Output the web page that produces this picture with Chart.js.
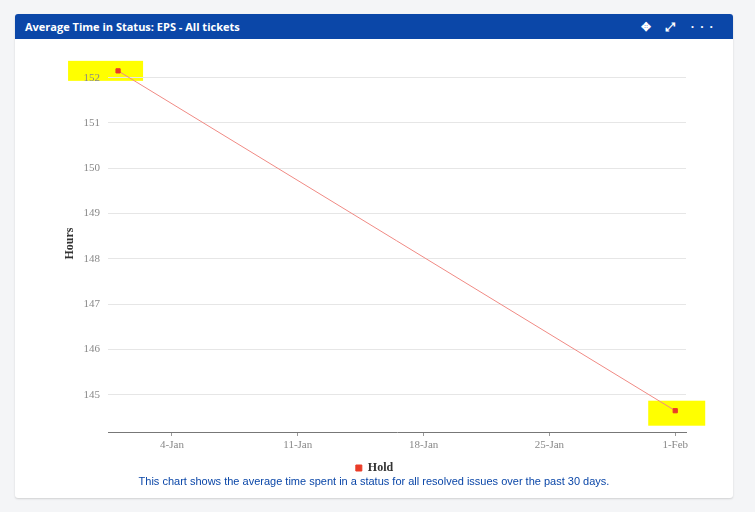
<!DOCTYPE html>
<html><head><meta charset="utf-8">
<script src="https://cdn.jsdelivr.net/npm/chart.js"></script>
<style>
body{margin:0;background:#f4f5f7;width:755px;height:512px;overflow:hidden;font-family:"Open Sans",Arial,sans-serif}
#card{position:absolute;left:15px;top:14px;width:718px;height:484px;background:#fff;border-radius:3px;box-shadow:0 1px 2px rgba(0,0,0,.15)}
#hdr{height:25px;background:#0b47a8;color:#fff;font-weight:bold;font-size:11px;line-height:25px;padding-left:10px;border-radius:3px 3px 0 0;position:relative}
#icons{position:absolute;right:14px;top:0;font-size:12px;letter-spacing:6px}
#wrap{position:absolute;left:0;top:26px;width:718px;height:448px}
#foot{position:absolute;left:0;top:461px;width:718px;text-align:center;color:#0b47a8;font-size:11px;font-family:Arial,"Liberation Sans",sans-serif}
</style></head><body>
<div id="card"><div id="hdr">Average Time in Status: EPS - All tickets<span id="icons">✥ ⤢ ···</span></div>
<div id="wrap"><canvas id="c"></canvas></div>
<div id="foot">This chart shows the average time spent in a status for all resolved issues over the past 30 days.</div></div>
<script>
const dayOffsets=[0,31];
const holdHours=[152.15,144.65];
const tickDays=[3,10,17,24,31];
const tickLabels=['4-Jan','11-Jan','18-Jan','25-Jan','1-Feb'];
const seriesName='Hold';
const highlight={id:'hl',beforeDraw(ch){const c=ch.ctx,m=ch.getDatasetMeta(0);c.save();c.fillStyle='#ffff00';
 m.data.forEach((p,i)=>{const x=p.x,y=p.y;if(i===0)c.fillRect(x-50,y-10,75,20);else c.fillRect(x-27,y-10,57,25);});c.restore();}};
new Chart(document.getElementById('c'),{type:'line',
data:{datasets:[{label:seriesName,data:dayOffsets.map((d,i)=>({x:d,y:holdHours[i]})),borderColor:'#f08a84',borderWidth:1,
 pointStyle:'rect',pointRadius:3,pointBackgroundColor:'#ea3c28',pointBorderColor:'#ea3c28',backgroundColor:'#ea4b40',tension:0}]},
options:{responsive:true,maintainAspectRatio:false,animation:false,
 layout:{padding:{left:48,right:47,top:15,bottom:4}},
 plugins:{tooltip:{enabled:false},legend:{position:'bottom',labels:{usePointStyle:true,pointStyle:'rect',boxWidth:6,boxHeight:6,color:'#333',padding:6,font:{family:'"Liberation Serif",serif',size:12,weight:'bold'}}}},
 scales:{
  x:{type:'linear',min:-0.56,max:31.6,afterBuildTicks(s){s.ticks=tickDays.map(v=>({value:v}));},
   ticks:{autoSkip:false,maxRotation:0,color:'#888',font:{family:'"Liberation Serif",serif',size:11},callback:(v)=>tickLabels[tickDays.indexOf(v)]},
   grid:{display:true,drawOnChartArea:false,tickLength:4,color:'#999'},border:{color:'#777'},afterFit(s){s.height=24;}},
  y:{min:144.18,max:152.5,afterBuildTicks(s){s.ticks=[145,146,147,148,149,150,151,152].map(v=>({value:v}));},
   ticks:{color:'#888',padding:8,font:{family:'"Liberation Serif",serif',size:11}},
   grid:{color:'#e6e6e6',drawTicks:false},border:{display:false},
   title:{display:true,text:'Hours',color:'#333',padding:0,font:{family:'"Liberation Serif",serif',size:12,weight:'bold'}},
   afterFit(s){s.width=45;}}}},
plugins:[highlight]});
</script></body></html>
